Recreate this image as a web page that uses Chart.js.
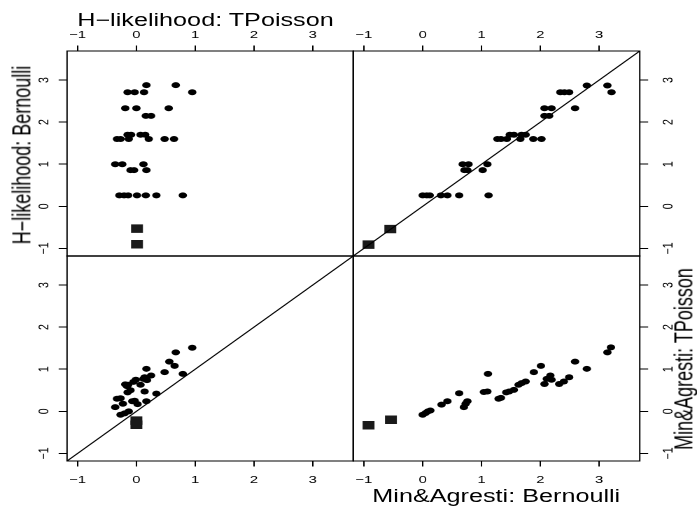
<!DOCTYPE html>
<html><head><meta charset="utf-8">
<script src="https://cdn.jsdelivr.net/npm/chart.js@4.4.1/dist/chart.umd.min.js"></script>
<style>
html,body{margin:0;padding:0;background:#fff;overflow:hidden;width:697px;height:506px}
#wrap{position:absolute;left:0;top:0;width:498px;height:506px;transform-origin:0 0;transform:scaleX(1.3996)}
#wrap canvas{position:absolute;left:0;top:0}
.ttl{position:absolute;font-family:"Liberation Sans",Arial,Helvetica,sans-serif;font-size:18px;line-height:18px;white-space:nowrap;color:#000}
</style></head><body>
<div id="wrap">
<canvas id="cTL" width="498" height="506"></canvas>
<canvas id="cTR" width="498" height="506"></canvas>
<canvas id="cBL" width="498" height="506"></canvas>
<canvas id="cBR" width="498" height="506"></canvas>
<div class="ttl" id="tTop" style="left:146.8px;top:10.8px;transform:translateX(-50%)">H−likelihood: TPoisson</div>
<div class="ttl" id="tLeft" style="left:15.7px;top:155px;transform:translate(-50%,-50%) rotate(-90deg)">H−likelihood: Bernoulli</div>
<div class="ttl" id="tRight" style="left:489.3px;top:359px;transform:translate(-50%,-50%) rotate(-90deg)">Min&amp;Agresti: TPoisson</div>
<div class="ttl" id="tBottom" style="left:354.6px;top:486.5px;transform:translateX(-50%)">Min&amp;Agresti: Bernoulli</div>
</div>
<script>
// ---- data ----
const tickValues = [-1, 0, 1, 2, 3];
const axisMin = -1.18, axisMax = 3.69;

// top-left: H-likelihood TPoisson (x) vs H-likelihood Bernoulli (y)
const tlX = [0.17,0.67, -0.15,-0.03,0.13,0.95, -0.19,0.00,0.55, 0.16,0.25,
  -0.15,-0.09,0.07,0.15, -0.33,-0.27,-0.13,0.21,0.48,0.64,
  -0.36,-0.24,0.12, -0.10,-0.04,0.17, -0.29,-0.21,-0.14,0.01,0.16,0.34,0.79];
const tlY = [2.88,2.88, 2.71,2.71,2.71,2.71, 2.33,2.33,2.33, 2.15,2.15,
  1.70,1.70,1.70,1.70, 1.60,1.60,1.60,1.60,1.60,1.60,
  1.00,1.00,1.00, 0.86,0.86,0.86, 0.26,0.26,0.26,0.26,0.26,0.26,0.26];
const tlTieX = [0.01, 0.01];
const tlTieY = [-0.53, -0.90];

// top-right: Min&Agresti Bernoulli (x) vs H-likelihood Bernoulli (y)
const trX = [2.79,3.14, 2.34,2.41,2.49,3.21, 2.07,2.19,2.59, 2.07,2.15,
  1.48,1.55,1.68,1.75, 1.27,1.33,1.43,1.66,1.88,2.02,
  0.68,0.78,1.10, 0.71,0.76,1.02, 0.00,0.07,0.12,0.31,0.42,0.62,1.12];
const trY = [2.87,2.87, 2.71,2.71,2.71,2.71, 2.33,2.33,2.33, 2.15,2.15,
  1.70,1.70,1.70,1.70, 1.60,1.60,1.60,1.60,1.60,1.60,
  1.00,1.00,1.00, 0.86,0.86,0.86, 0.26,0.26,0.26,0.26,0.26,0.26,0.26];
const trTieX = [-0.55, -0.92];
const trTieY = [-0.54, -0.91];

// bottom-left: H-likelihood TPoisson (x) vs Min&Agresti TPoisson (y)
const blX = [0.95,0.67,0.56,0.65,0.17,0.48,0.79,0.25,0.14,0.12,0.18,-0.01,-0.05,0.07,-0.19,-0.14,
  -0.10,-0.15,0.14,0.34,-0.33,-0.27,-0.07,-0.03,0.17,-0.23,-0.36,0.02,-0.27,-0.20,-0.13,-0.16];
const blY = [1.51,1.40,1.18,1.08,1.01,0.93,0.89,0.85,0.81,0.77,0.74,0.75,0.70,0.63,0.64,0.63,
  0.50,0.45,0.47,0.42,0.30,0.31,0.24,0.25,0.24,0.18,0.10,0.17,-0.08,-0.05,0.00,0.60];
const blTieX = [0.00, 0.00];
const blTieY = [-0.22, -0.32];

// bottom-right: Min&Agresti Bernoulli (x) vs Min&Agresti TPoisson (y)
const brX = [3.20,3.14,2.59,2.79,2.01,1.89,1.11,2.17,2.11,2.19,2.07,2.49,2.40,2.32,1.75,1.68,1.63,
  1.55,1.47,1.42,1.29,1.33,1.10,1.04,0.62,0.76,0.73,0.70,0.42,0.32,0.13,0.09,0.05,0.00];
const brY = [1.52,1.40,1.18,1.01,1.08,0.93,0.89,0.85,0.77,0.75,0.65,0.81,0.71,0.65,0.71,0.67,0.63,
  0.51,0.47,0.45,0.30,0.32,0.47,0.46,0.43,0.24,0.18,0.10,0.24,0.16,0.02,0.00,-0.04,-0.08];
const brTieX = [-0.54, -0.92];
const brTieY = [-0.20, -0.33];

// ---- layout constants (logical, before horizontal stretch) ----
const W = 498, H = 506;
const PL = 47.9, PM = 252.4, PR = 457.1, PT = 51, PC = 256, PB = 461;
const FONT = '"Liberation Sans", Arial, Helvetica, sans-serif';

const fmt = v => (v < 0 ? '\u2212' + Math.abs(v) : String(v));
const pts = (xs, ys) => xs.map((x, i) => ({x: x, y: ys[i]}));

const framePlugin = {
  id: 'frame',
  afterDraw(chart) {
    const a = chart.chartArea, ctx = chart.ctx;
    ctx.save();
    ctx.strokeStyle = '#000';
    ctx.lineWidth = 1;
    ctx.strokeRect(a.left, a.top, a.right - a.left, a.bottom - a.top);
    ctx.restore();
  }
};

function xScale(pos) {
  return {
    type: 'linear', position: pos, min: axisMin, max: axisMax,
    afterBuildTicks: s => { s.ticks = tickValues.map(v => ({value: v})); },
    afterFit: s => { s.height = pos === 'top' ? PT : H - PB; },
    grid: {display: true, drawOnChartArea: false, drawTicks: true, tickLength: 5.5, color: '#000', lineWidth: 1},
    border: {display: false},
    ticks: {color: '#000', font: {family: FONT, size: 10.5}, padding: pos === 'top' ? 4.2 : 7.2,
      maxRotation: 0, minRotation: 0, autoSkip: false, callback: v => fmt(v)}
  };
}
function yScale(pos) {
  return {
    type: 'linear', position: pos, min: axisMin, max: axisMax,
    afterBuildTicks: s => { s.ticks = tickValues.map(v => ({value: v})); },
    afterFit: s => { s.width = pos === 'left' ? PL : W - PR; },
    grid: {display: true, drawOnChartArea: false, drawTicks: true, tickLength: 6, color: '#000', lineWidth: 1},
    border: {display: false},
    ticks: {color: '#000', font: {family: FONT, size: 10.5}, padding: pos === 'left' ? 4.5 : 8.5,
      minRotation: 90, maxRotation: 90, crossAlign: 'center', autoSkip: false, callback: v => fmt(v)}
  };
}

function makePanel(id, xs, ys, tx, ty, xPos, yPos, diag, padding) {
  const datasets = [];
  if (diag) {
    datasets.push({type: 'line', data: [{x: axisMin, y: axisMin}, {x: axisMax, y: axisMax}],
      borderColor: '#000', borderWidth: 1, pointRadius: 0, fill: false, tension: 0});
  }
  datasets.push({type: 'scatter', data: pts(xs, ys), pointStyle: 'circle', pointRadius: 3.0,
    backgroundColor: '#000', borderWidth: 0});
  datasets.push({type: 'scatter', data: pts(tx, ty), pointStyle: 'rect', pointRadius: 6,
    backgroundColor: '#1a1a1a', borderWidth: 0});
  new Chart(document.getElementById(id), {
    type: 'scatter',
    data: {datasets: datasets},
    options: {
      responsive: false, animation: false, devicePixelRatio: 2, events: [],
      layout: {padding: padding},
      plugins: {legend: {display: false}, tooltip: {enabled: false}},
      scales: {x: xScale(xPos), y: yScale(yPos)}
    },
    plugins: [framePlugin]
  });
}

makePanel('cTL', tlX, tlY, tlTieX, tlTieY, 'top', 'left', false, {left: 0, top: 0, right: W - PM, bottom: H - PC});
makePanel('cTR', trX, trY, trTieX, trTieY, 'top', 'right', true, {left: PM, top: 0, right: 0, bottom: H - PC});
makePanel('cBL', blX, blY, blTieX, blTieY, 'bottom', 'left', true, {left: 0, top: PC, right: W - PM, bottom: 0});
makePanel('cBR', brX, brY, brTieX, brTieY, 'bottom', 'right', false, {left: PM, top: PC, right: 0, bottom: 0});
</script>
</body></html>
